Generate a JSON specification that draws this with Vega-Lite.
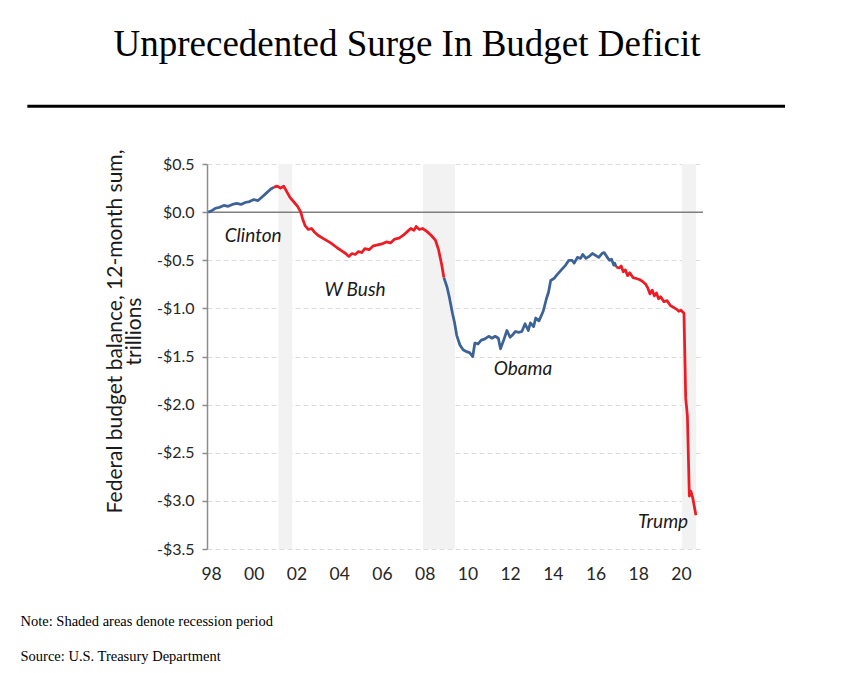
{
  "$schema": "https://vega.github.io/schema/vega-lite/v6.json",
  "autosize": {"type": "none"},
  "width": 496,
  "height": 385,
  "padding": {"left": 207, "top": 164, "right": 140, "bottom": 124},
  "background": "white",
  "title": {
    "text": "Unprecedented Surge In Budget Deficit",
    "font": "Liberation Serif",
    "fontSize": 37,
    "fontWeight": "normal",
    "color": "black",
    "anchor": "middle",
    "frame": "group",
    "dx": -48,
    "offset": 41
  },
  "config": {
    "view": {"stroke": null},
    "axis": {"labelFont": "Lato", "titleFont": "Lato"}
  },
  "datasets": {
    "series": [
      {"t": 1997.87, "v": 0.0, "s": "Clinton"},
      {"t": 1998.0, "v": 0.01, "s": "Clinton"},
      {"t": 1998.2, "v": 0.04, "s": "Clinton"},
      {"t": 1998.4, "v": 0.05, "s": "Clinton"},
      {"t": 1998.6, "v": 0.07, "s": "Clinton"},
      {"t": 1998.8, "v": 0.06, "s": "Clinton"},
      {"t": 1999.0, "v": 0.08, "s": "Clinton"},
      {"t": 1999.2, "v": 0.09, "s": "Clinton"},
      {"t": 1999.4, "v": 0.08, "s": "Clinton"},
      {"t": 1999.6, "v": 0.1, "s": "Clinton"},
      {"t": 1999.8, "v": 0.11, "s": "Clinton"},
      {"t": 2000.0, "v": 0.13, "s": "Clinton"},
      {"t": 2000.2, "v": 0.12, "s": "Clinton"},
      {"t": 2000.4, "v": 0.16, "s": "Clinton"},
      {"t": 2000.6, "v": 0.2, "s": "Clinton"},
      {"t": 2000.8, "v": 0.24, "s": "Clinton"},
      {"t": 2000.95, "v": 0.26, "s": "Clinton"},
      {"t": 2000.95, "v": 0.26, "s": "Bush"},
      {"t": 2001.1, "v": 0.27, "s": "Bush"},
      {"t": 2001.25, "v": 0.25, "s": "Bush"},
      {"t": 2001.4, "v": 0.27, "s": "Bush"},
      {"t": 2001.55, "v": 0.21, "s": "Bush"},
      {"t": 2001.7, "v": 0.15, "s": "Bush"},
      {"t": 2001.9, "v": 0.1, "s": "Bush"},
      {"t": 2002.05, "v": 0.06, "s": "Bush"},
      {"t": 2002.2, "v": 0.0, "s": "Bush"},
      {"t": 2002.3, "v": -0.08, "s": "Bush"},
      {"t": 2002.4, "v": -0.14, "s": "Bush"},
      {"t": 2002.55, "v": -0.18, "s": "Bush"},
      {"t": 2002.7, "v": -0.17, "s": "Bush"},
      {"t": 2002.85, "v": -0.21, "s": "Bush"},
      {"t": 2003.0, "v": -0.24, "s": "Bush"},
      {"t": 2003.3, "v": -0.28, "s": "Bush"},
      {"t": 2003.6, "v": -0.32, "s": "Bush"},
      {"t": 2003.9, "v": -0.37, "s": "Bush"},
      {"t": 2004.1, "v": -0.4, "s": "Bush"},
      {"t": 2004.3, "v": -0.43, "s": "Bush"},
      {"t": 2004.45, "v": -0.46, "s": "Bush"},
      {"t": 2004.6, "v": -0.43, "s": "Bush"},
      {"t": 2004.75, "v": -0.44, "s": "Bush"},
      {"t": 2004.9, "v": -0.41, "s": "Bush"},
      {"t": 2005.05, "v": -0.42, "s": "Bush"},
      {"t": 2005.2, "v": -0.38, "s": "Bush"},
      {"t": 2005.4, "v": -0.39, "s": "Bush"},
      {"t": 2005.6, "v": -0.35, "s": "Bush"},
      {"t": 2005.8, "v": -0.34, "s": "Bush"},
      {"t": 2006.0, "v": -0.33, "s": "Bush"},
      {"t": 2006.2, "v": -0.31, "s": "Bush"},
      {"t": 2006.4, "v": -0.32, "s": "Bush"},
      {"t": 2006.6, "v": -0.28, "s": "Bush"},
      {"t": 2006.8, "v": -0.27, "s": "Bush"},
      {"t": 2007.0, "v": -0.24, "s": "Bush"},
      {"t": 2007.2, "v": -0.2, "s": "Bush"},
      {"t": 2007.35, "v": -0.17, "s": "Bush"},
      {"t": 2007.5, "v": -0.19, "s": "Bush"},
      {"t": 2007.6, "v": -0.15, "s": "Bush"},
      {"t": 2007.75, "v": -0.18, "s": "Bush"},
      {"t": 2007.9, "v": -0.17, "s": "Bush"},
      {"t": 2008.1, "v": -0.2, "s": "Bush"},
      {"t": 2008.3, "v": -0.24, "s": "Bush"},
      {"t": 2008.5, "v": -0.29, "s": "Bush"},
      {"t": 2008.65, "v": -0.39, "s": "Bush"},
      {"t": 2008.8, "v": -0.55, "s": "Bush"},
      {"t": 2008.9, "v": -0.68, "s": "Bush"},
      {"t": 2008.9, "v": -0.68, "s": "Obama"},
      {"t": 2009.05, "v": -0.78, "s": "Obama"},
      {"t": 2009.15, "v": -0.88, "s": "Obama"},
      {"t": 2009.3, "v": -1.05, "s": "Obama"},
      {"t": 2009.4, "v": -1.15, "s": "Obama"},
      {"t": 2009.5, "v": -1.28, "s": "Obama"},
      {"t": 2009.65, "v": -1.38, "s": "Obama"},
      {"t": 2009.8, "v": -1.43, "s": "Obama"},
      {"t": 2009.95, "v": -1.45, "s": "Obama"},
      {"t": 2010.1, "v": -1.46, "s": "Obama"},
      {"t": 2010.25, "v": -1.5, "s": "Obama"},
      {"t": 2010.35, "v": -1.36, "s": "Obama"},
      {"t": 2010.5, "v": -1.37, "s": "Obama"},
      {"t": 2010.65, "v": -1.33, "s": "Obama"},
      {"t": 2010.8, "v": -1.32, "s": "Obama"},
      {"t": 2011.0, "v": -1.29, "s": "Obama"},
      {"t": 2011.15, "v": -1.31, "s": "Obama"},
      {"t": 2011.3, "v": -1.29, "s": "Obama"},
      {"t": 2011.45, "v": -1.31, "s": "Obama"},
      {"t": 2011.55, "v": -1.42, "s": "Obama"},
      {"t": 2011.7, "v": -1.33, "s": "Obama"},
      {"t": 2011.85, "v": -1.23, "s": "Obama"},
      {"t": 2012.0, "v": -1.3, "s": "Obama"},
      {"t": 2012.1, "v": -1.28, "s": "Obama"},
      {"t": 2012.25, "v": -1.24, "s": "Obama"},
      {"t": 2012.4, "v": -1.25, "s": "Obama"},
      {"t": 2012.55, "v": -1.24, "s": "Obama"},
      {"t": 2012.7, "v": -1.16, "s": "Obama"},
      {"t": 2012.85, "v": -1.23, "s": "Obama"},
      {"t": 2012.95, "v": -1.15, "s": "Obama"},
      {"t": 2013.1, "v": -1.19, "s": "Obama"},
      {"t": 2013.2, "v": -1.1, "s": "Obama"},
      {"t": 2013.35, "v": -1.13, "s": "Obama"},
      {"t": 2013.55, "v": -1.03, "s": "Obama"},
      {"t": 2013.7, "v": -0.9, "s": "Obama"},
      {"t": 2013.8, "v": -0.83, "s": "Obama"},
      {"t": 2013.9, "v": -0.71, "s": "Obama"},
      {"t": 2014.05, "v": -0.69, "s": "Obama"},
      {"t": 2014.2, "v": -0.65, "s": "Obama"},
      {"t": 2014.4, "v": -0.6, "s": "Obama"},
      {"t": 2014.6, "v": -0.55, "s": "Obama"},
      {"t": 2014.75, "v": -0.5, "s": "Obama"},
      {"t": 2014.9, "v": -0.5, "s": "Obama"},
      {"t": 2015.0, "v": -0.53, "s": "Obama"},
      {"t": 2015.15, "v": -0.47, "s": "Obama"},
      {"t": 2015.3, "v": -0.48, "s": "Obama"},
      {"t": 2015.4, "v": -0.44, "s": "Obama"},
      {"t": 2015.55, "v": -0.48, "s": "Obama"},
      {"t": 2015.7, "v": -0.46, "s": "Obama"},
      {"t": 2015.85, "v": -0.43, "s": "Obama"},
      {"t": 2016.0, "v": -0.45, "s": "Obama"},
      {"t": 2016.15, "v": -0.47, "s": "Obama"},
      {"t": 2016.3, "v": -0.43, "s": "Obama"},
      {"t": 2016.4, "v": -0.42, "s": "Obama"},
      {"t": 2016.55, "v": -0.47, "s": "Obama"},
      {"t": 2016.65, "v": -0.5, "s": "Obama"},
      {"t": 2016.75, "v": -0.49, "s": "Obama"},
      {"t": 2016.85, "v": -0.55, "s": "Obama"},
      {"t": 2016.9, "v": -0.53, "s": "Obama"},
      {"t": 2016.97, "v": -0.57, "s": "Obama"},
      {"t": 2016.97, "v": -0.57, "s": "Trump"},
      {"t": 2017.1, "v": -0.58, "s": "Trump"},
      {"t": 2017.2, "v": -0.56, "s": "Trump"},
      {"t": 2017.3, "v": -0.62, "s": "Trump"},
      {"t": 2017.4, "v": -0.6, "s": "Trump"},
      {"t": 2017.5, "v": -0.66, "s": "Trump"},
      {"t": 2017.6, "v": -0.63, "s": "Trump"},
      {"t": 2017.75, "v": -0.68, "s": "Trump"},
      {"t": 2017.9, "v": -0.69, "s": "Trump"},
      {"t": 2018.05, "v": -0.7, "s": "Trump"},
      {"t": 2018.2, "v": -0.72, "s": "Trump"},
      {"t": 2018.35, "v": -0.75, "s": "Trump"},
      {"t": 2018.45, "v": -0.79, "s": "Trump"},
      {"t": 2018.55, "v": -0.85, "s": "Trump"},
      {"t": 2018.65, "v": -0.81, "s": "Trump"},
      {"t": 2018.75, "v": -0.87, "s": "Trump"},
      {"t": 2018.85, "v": -0.84, "s": "Trump"},
      {"t": 2018.95, "v": -0.9, "s": "Trump"},
      {"t": 2019.05, "v": -0.88, "s": "Trump"},
      {"t": 2019.2, "v": -0.93, "s": "Trump"},
      {"t": 2019.35, "v": -0.92, "s": "Trump"},
      {"t": 2019.5, "v": -0.97, "s": "Trump"},
      {"t": 2019.65, "v": -0.99, "s": "Trump"},
      {"t": 2019.8, "v": -1.01, "s": "Trump"},
      {"t": 2019.9, "v": -1.03, "s": "Trump"},
      {"t": 2020.0, "v": -1.02, "s": "Trump"},
      {"t": 2020.14, "v": -1.05, "s": "Trump"},
      {"t": 2020.22, "v": -1.93, "s": "Trump"},
      {"t": 2020.3, "v": -2.12, "s": "Trump"},
      {"t": 2020.39, "v": -2.95, "s": "Trump"},
      {"t": 2020.46, "v": -2.9, "s": "Trump"},
      {"t": 2020.55, "v": -2.97, "s": "Trump"},
      {"t": 2020.7, "v": -3.15, "s": "Trump"}
    ],
    "recessions": [
      {"start": 2001.15, "end": 2001.8},
      {"start": 2007.92, "end": 2009.42},
      {"start": 2020.04, "end": 2020.71}
    ],
    "labels": [
      {"t": 1999.97, "v": -0.25, "label": "Clinton"},
      {"t": 2004.74, "v": -0.81, "label": "W Bush"},
      {"t": 2012.6, "v": -1.63, "label": "Obama"},
      {"t": 2019.16, "v": -3.22, "label": "Trump"}
    ]
  },
  "layer": [
    {
      "data": {"name": "recessions"},
      "mark": {"type": "rect", "color": "#f2f2f2"},
      "encoding": {
        "x": {"field": "start", "type": "quantitative", "scale": {"domain": [1997.81, 2021.03], "nice": false, "zero": false},
          "axis": {
            "values": [1998, 2000, 2002, 2004, 2006, 2008, 2010, 2012, 2014, 2016, 2018, 2020],
            "labelExpr": "slice(toString(datum.value), 2)",
            "grid": false, "domain": false, "ticks": false,
            "labelFontSize": 17.5, "labelColor": "#262626", "labelPadding": 16,
            "title": ["Note: Shaded areas denote recession period", "Source: U.S. Treasury Department"],
            "titleFont": "Liberation Serif", "titleFontSize": 14.5, "titleFontWeight": "normal", "titleColor": "black",
            "titleAnchor": "start", "titleAlign": "left", "titleBaseline": "alphabetic",
            "titleX": -187, "titleY": 76, "titleLineHeight": 35
          }},
        "x2": {"field": "end"}
      }
    },
    {
      "data": {"values": [{}]},
      "mark": {"type": "rule", "color": "#7f7f7f", "strokeWidth": 1.5},
      "encoding": {
        "y": {"datum": 0, "type": "quantitative", "scale": {"domain": [-3.5, 0.5], "nice": false},
          "axis": {
            "values": [-3.5, -3.0, -2.5, -2.0, -1.5, -1.0, -0.5, 0.0, 0.5],
            "labelExpr": "datum.value < 0 ? '-$' + format(-datum.value, '.1f') : '$' + format(datum.value, '.1f')",
            "grid": true, "gridColor": "#dcdcdc", "gridDash": [5, 3], "gridWidth": 1,
            "domain": true, "domainColor": "#8c8c8c", "domainWidth": 1.5,
            "ticks": true, "tickColor": "#8c8c8c", "tickSize": 5, "tickWidth": 1.5,
            "labelFontSize": 16, "labelColor": "#262626", "labelPadding": 8,
            "title": ["Federal budget balance, 12-month sum,", "trillions"],
            "titleFontSize": 21, "titleFontWeight": "normal", "titleColor": "#1a1a1a",
            "titleLineHeight": 19, "titleY": 167, "titlePadding": 12
          }}
      }
    },
    {
      "data": {"name": "series"},
      "mark": {"type": "line", "strokeWidth": 2.75, "strokeJoin": "round"},
      "encoding": {
        "x": {"field": "t", "type": "quantitative"},
        "y": {"field": "v", "type": "quantitative"},
        "color": {"field": "s", "type": "nominal",
          "scale": {"domain": ["Clinton", "Bush", "Obama", "Trump"], "range": ["#3d6396", "#ee1b24", "#3d6396", "#ee1b24"]},
          "legend": null}
      }
    },
    {
      "data": {"name": "labels"},
      "mark": {"type": "text", "font": "Lato", "fontSize": 19, "fontStyle": "italic", "color": "#1a1a1a", "align": "center", "baseline": "middle"},
      "encoding": {
        "x": {"field": "t", "type": "quantitative"},
        "y": {"field": "v", "type": "quantitative"},
        "text": {"field": "label"}
      }
    },
    {
      "data": {"values": [{}]},
      "mark": {"type": "rule", "color": "black", "strokeWidth": 3, "clip": false},
      "encoding": {
        "x": {"datum": 1989.4, "type": "quantitative"},
        "x2": {"datum": 2024.87},
        "y": {"datum": 1.1, "type": "quantitative"}
      }
    }
  ]
}
